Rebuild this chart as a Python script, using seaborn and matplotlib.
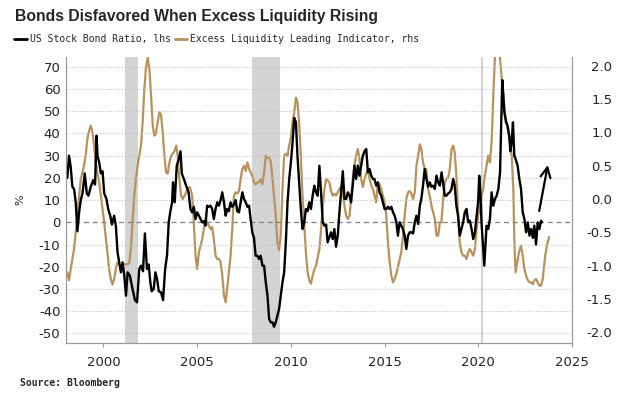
import numpy as np
import pandas as pd
import matplotlib
matplotlib.use('Agg')
import matplotlib.pyplot as plt
from matplotlib.lines import Line2D
from matplotlib.ticker import FormatStrFormatter
import seaborn as sns

# US stock/bond ratio (lhs, %)
ratio_years = [
    1998.07, 1998.16, 1998.25, 1998.34, 1998.43, 1998.52, 1998.61, 1998.70, 1998.79, 1998.88,
    1999.00, 1999.11, 1999.20, 1999.32, 1999.46, 1999.55, 1999.63, 1999.68, 1999.77, 1999.86,
    1999.95, 2000.04, 2000.16, 2000.25, 2000.36, 2000.45, 2000.57, 2000.66, 2000.75, 2000.84,
    2000.93, 2001.02, 2001.11, 2001.20, 2001.29, 2001.41, 2001.55, 2001.68, 2001.79, 2001.91,
    2002.00, 2002.11, 2002.21, 2002.32, 2002.41, 2002.50, 2002.57, 2002.68, 2002.77, 2002.86,
    2002.95, 2003.07, 2003.18, 2003.29, 2003.39, 2003.48, 2003.57, 2003.66, 2003.71, 2003.80,
    2003.91, 2004.00, 2004.11, 2004.18, 2004.29, 2004.41, 2004.54,
    2004.64, 2004.73, 2004.82, 2004.91, 2005.00, 2005.09, 2005.18, 2005.27, 2005.35, 2005.44,
    2005.53, 2005.62, 2005.71, 2005.80, 2005.89, 2005.98, 2006.07, 2006.16, 2006.25, 2006.34,
    2006.43, 2006.52, 2006.60, 2006.69, 2006.78, 2006.87, 2006.96, 2007.05, 2007.14, 2007.23,
    2007.32, 2007.41, 2007.50, 2007.59, 2007.68, 2007.77, 2007.85, 2007.94, 2008.03, 2008.12,
    2008.21, 2008.30, 2008.39, 2008.48, 2008.57, 2008.66, 2008.75, 2008.84, 2008.93, 2009.02,
    2009.10, 2009.19, 2009.28, 2009.37, 2009.46, 2009.55, 2009.64, 2009.73, 2009.82, 2009.91,
    2010.00, 2010.09, 2010.18, 2010.27, 2010.35, 2010.44, 2010.53, 2010.62, 2010.71, 2010.80,
    2010.89, 2010.98, 2011.07, 2011.16, 2011.25, 2011.34,
    2011.43, 2011.52, 2011.61, 2011.70, 2011.79, 2011.88, 2011.96, 2012.05, 2012.14, 2012.23,
    2012.32, 2012.41, 2012.50, 2012.59, 2012.68, 2012.77, 2012.86, 2012.95, 2013.04, 2013.13,
    2013.21, 2013.30, 2013.39, 2013.48, 2013.57, 2013.66, 2013.75, 2013.84, 2013.93, 2014.02,
    2014.11, 2014.20, 2014.29, 2014.38, 2014.46, 2014.55, 2014.64, 2014.73, 2014.82, 2014.91,
    2015.00, 2015.09, 2015.18, 2015.27, 2015.36, 2015.45, 2015.54, 2015.63, 2015.71, 2015.80,
    2015.89, 2015.98, 2016.07, 2016.16, 2016.25, 2016.34, 2016.43, 2016.52, 2016.61, 2016.70,
    2016.79, 2016.88, 2016.96, 2017.05, 2017.14, 2017.23, 2017.32, 2017.41, 2017.50, 2017.59,
    2017.68, 2017.77, 2017.86, 2017.95, 2018.04,
    2018.12, 2018.21, 2018.30, 2018.39, 2018.48, 2018.57, 2018.66, 2018.74, 2018.83, 2018.92,
    2019.01, 2019.10, 2019.19, 2019.28, 2019.37, 2019.46, 2019.55, 2019.64, 2019.73, 2019.82,
    2019.91, 2019.99, 2020.05, 2020.12, 2020.17, 2020.26, 2020.32, 2020.39, 2020.44, 2020.53,
    2020.62, 2020.71, 2020.80, 2020.89, 2020.98, 2021.07, 2021.16, 2021.21, 2021.28, 2021.33,
    2021.39, 2021.48, 2021.56, 2021.65, 2021.71, 2021.78, 2021.85, 2021.92, 2021.99, 2022.10,
    2022.19, 2022.28, 2022.37, 2022.46, 2022.55, 2022.64, 2022.73, 2022.82, 2022.91, 2022.99,
    2023.08, 2023.17, 2023.26, 2023.35, 2023.39,
]
ratio = [
    20, 30, 25, 16, 15, 9, -4, 4.5, 10, 13,
    22, 13, 12, 16, 19, 17, 39, 30, 27, 22,
    23, 13, 10.5, 6, 3, -1, 3, -1.5, -13.5, -18,
    -22.5, -18, -24, -33, -22.5, -24, -30, -35, -36, -21,
    -19.5, -22, -5, -21, -19, -27, -31, -30, -22.5, -25.5,
    -31, -31.5, -35, -21, -15, 0, 5, 9, 18, 9,
    25.5, 28, 32, 22, 19.5, 16.5, 13.5,
    6, 4.5, 7, 1.5, 4.5, 3, 1.5, 0, 0.5, -1.5,
    7.5, 7, 7.5, 6, 1.5, 6, 9, 7.5, 10, 13.5,
    9, 3, 6, 5, 9, 7, 8, 10, 5, 4.5,
    9, 13.5, 10.5, 9, 7, 7.5, 1.5, -4.5, -7, -15,
    -15, -16.5, -15, -19.5, -19.5, -27, -33, -43.5, -45, -45,
    -47, -45, -42, -39, -33, -27, -22.5, -9, 9, 19.5,
    27, 36, 47, 45, 30, 18, 6, -3, 0, 6,
    5, 9, 6, 12, 16.5, 13.5,
    12, 25.5, 13.5, 0, -1.5, -1, -9, -6.75, -4.5, -7.5,
    -3, -11, -6, 4.5, 13.5, 23, 10.5, 10.5, 13.5, 12,
    9, 16.5, 25.5, 19.5, 25.5, 21, 25.5, 30, 32, 33,
    22.5, 24, 21, 19.5, 19.5, 16.5, 18, 13.5, 12, 9,
    6, 6, 7, 6, 7, 4.5, 3, 0, -6, 0,
    -1.5, -3, -6, -12, -6, -4.5, -4.5, -5, 0, 3,
    -0.75, 7.5, 10.5, 16.5, 24, 19.5, 16, 18, 16, 16.5,
    15, 21, 18, 16.5, 22.5,
    18, 12, 12, 13, 13.5, 15, 19.5, 16.5, 7.5, 3,
    -6, -3, 0, 4.5, 6, 0, 0.75, -3, -7.5, -4.5,
    3, 9, 21, 12, 0, -12, -19.5, -9, -1.5, -3,
    1.5, 13.5, 7.5, 10.5, 12, 15, 22.5, 39, 64, 58,
    49.5, 45, 43.5, 39, 32, 36, 45, 30, 28.5, 25.5,
    19.5, 15, 4.5, 1.5, -4.5, 0, -6, -3, -7, -1.5,
    -10, 0, -3, 0.75, 0,
]

# Excess liquidity leading indicator (rhs)
liq_years = [
    1998.07, 1998.16, 1998.25, 1998.34, 1998.43, 1998.52, 1998.61, 1998.70, 1998.79, 1998.88,
    1998.96, 1999.05, 1999.14, 1999.23, 1999.32, 1999.41, 1999.50, 1999.59, 1999.68, 1999.77,
    1999.86, 1999.95, 2000.04, 2000.13, 2000.21, 2000.30, 2000.39, 2000.48, 2000.57, 2000.66,
    2000.75, 2000.84, 2000.93, 2001.11, 2001.29, 2001.38, 2001.46, 2001.55, 2001.64, 2001.73,
    2001.82, 2001.91, 2002.00, 2002.09, 2002.18, 2002.27, 2002.36, 2002.45, 2002.54, 2002.63,
    2002.71, 2002.80, 2002.89, 2002.98, 2003.07, 2003.16, 2003.25, 2003.34, 2003.43, 2003.52,
    2003.61, 2003.70, 2003.79, 2003.88, 2003.96, 2004.05, 2004.14, 2004.23, 2004.32, 2004.41,
    2004.50, 2004.59,
    2004.64, 2004.73, 2004.82, 2004.91, 2005.00, 2005.09, 2005.18, 2005.27, 2005.35, 2005.44,
    2005.53, 2005.62, 2005.71, 2005.80, 2005.89, 2005.98, 2006.07, 2006.16, 2006.25, 2006.34,
    2006.43, 2006.52, 2006.60, 2006.69, 2006.78, 2006.87, 2006.96, 2007.05, 2007.14, 2007.23,
    2007.32, 2007.41, 2007.50, 2007.59, 2007.68, 2007.77, 2007.85, 2007.94, 2008.03, 2008.12,
    2008.21, 2008.30, 2008.39, 2008.48, 2008.57, 2008.66, 2008.75, 2008.84, 2008.93, 2009.02,
    2009.10, 2009.19, 2009.28, 2009.37, 2009.46, 2009.55, 2009.64, 2009.73, 2009.82, 2009.91,
    2010.00, 2010.09, 2010.18, 2010.27, 2010.35, 2010.44, 2010.53, 2010.62, 2010.71, 2010.80,
    2010.89, 2010.98, 2011.07, 2011.16, 2011.25, 2011.34, 2011.43, 2011.52, 2011.61, 2011.70,
    2011.79, 2011.88,
    2011.96, 2012.05, 2012.14, 2012.23, 2012.32, 2012.41, 2012.50, 2012.59, 2012.68, 2012.77,
    2012.86, 2012.95, 2013.04, 2013.13, 2013.21, 2013.30, 2013.39, 2013.48, 2013.57, 2013.66,
    2013.75, 2013.84, 2013.93, 2014.02, 2014.11, 2014.20, 2014.29, 2014.38, 2014.46, 2014.55,
    2014.64, 2014.73, 2014.82, 2014.91, 2015.00, 2015.09, 2015.18, 2015.27, 2015.36, 2015.45,
    2015.54, 2015.63, 2015.71, 2015.80, 2015.89, 2015.98, 2016.07, 2016.16, 2016.25, 2016.34,
    2016.43, 2016.52, 2016.61, 2016.70, 2016.79, 2016.88, 2016.96, 2017.05, 2017.14, 2017.23,
    2017.32, 2017.41, 2017.50, 2017.59, 2017.68, 2017.77, 2017.86, 2017.95,
    2018.03, 2018.12, 2018.21, 2018.30, 2018.39, 2018.48, 2018.57, 2018.66, 2018.74, 2018.83,
    2018.92, 2019.01, 2019.10, 2019.19, 2019.28, 2019.37, 2019.46, 2019.55, 2019.64, 2019.73,
    2019.82, 2019.91, 2019.99, 2020.08, 2020.17, 2020.26, 2020.35, 2020.44, 2020.53, 2020.62,
    2020.71, 2020.80, 2020.89, 2020.98, 2021.07, 2021.16, 2021.24, 2021.33, 2021.42, 2021.51,
    2021.60, 2021.69, 2021.78, 2021.87, 2021.92, 2021.99, 2022.08, 2022.17, 2022.28, 2022.37,
    2022.46, 2022.55, 2022.64, 2022.73, 2022.82, 2022.91, 2022.99, 2023.08, 2023.17, 2023.26,
    2023.35, 2023.44, 2023.57, 2023.66, 2023.78,
]
liquidity = [
    -1.10, -1.22, -1.05, -0.90, -0.75, -0.50, -0.25, 0.05, 0.30, 0.40,
    0.50, 0.65, 0.90, 1.02, 1.10, 1.00, 0.80, 0.55, 0.38, 0.25,
    0.05, -0.15, -0.35, -0.60, -0.80, -1.05, -1.20, -1.28, -1.20, -1.05,
    -0.95, -0.98, -1.00, -0.98, -0.98, -0.95, -0.75, -0.35, 0.05, 0.30,
    0.50, 0.65, 0.80, 1.15, 1.65, 1.98, 2.12, 1.95, 1.55, 1.10,
    0.95, 0.98, 1.15, 1.30, 1.27, 1.00, 0.65, 0.40, 0.38, 0.55,
    0.65, 0.68, 0.72, 0.80, 0.65, 0.30, 0.05, 0.00, 0.05, 0.10,
    0.15, 0.18,
    0.15, 0.05, -0.35, -0.85, -1.05, -0.80, -0.70, -0.60, -0.45, -0.30,
    -0.35, -0.40, -0.45, -0.42, -0.60, -0.85, -0.90, -0.90, -0.95, -1.15,
    -1.45, -1.55, -1.35, -1.10, -0.85, -0.45, 0.05, 0.10, 0.08, 0.12,
    0.30, 0.45, 0.50, 0.42, 0.55, 0.45, 0.40, 0.35, 0.25, 0.22,
    0.25, 0.25, 0.30, 0.22, 0.40, 0.65, 0.62, 0.62, 0.55, 0.30,
    0.05, -0.25, -0.65, -0.77, -0.55, 0.15, 0.65, 0.68, 0.65, 0.80,
    0.92, 1.15, 1.30, 1.52, 1.45, 1.15, 0.65, 0.05, -0.35, -0.80,
    -1.10, -1.22, -1.27, -1.15, -1.05, -1.00, -0.88, -0.75, -0.45, -0.12,
    0.15, 0.30,
    0.28, 0.25, 0.12, 0.05, 0.08, 0.05, 0.10, 0.15, 0.18, 0.10,
    -0.10, -0.25, -0.30, -0.25, 0.00, 0.30, 0.50, 0.65, 0.75, 0.60,
    0.30, 0.18, 0.30, 0.38, 0.45, 0.30, 0.20, 0.15, 0.05, -0.05,
    0.25, 0.22, 0.15, 0.05, -0.05, -0.25, -0.65, -0.95, -1.15, -1.25,
    -1.20, -1.12, -1.02, -0.90, -0.80, -0.55, -0.25, 0.00, 0.10, 0.12,
    0.08, 0.00, 0.10, 0.50, 0.65, 0.82, 0.75, 0.55, 0.45, 0.45,
    0.15, 0.05, -0.10, -0.20, -0.30, -0.55, -0.55, -0.35,
    -0.35, -0.02, 0.25, 0.30, 0.32, 0.45, 0.75, 0.80, 0.70, 0.35,
    -0.20, -0.65, -0.80, -0.85, -0.85, -0.90, -0.80, -0.75, -0.80, -0.85,
    -0.75, -0.45, -0.25, -0.15, 0.05, 0.15, 0.35, 0.50, 0.65, 0.55,
    0.85, 1.55, 2.15, 2.38, 2.32, 2.10, 1.85, 1.55, 1.30, 1.15,
    1.00, 0.85, 0.65, 0.15, -0.60, -1.10, -0.95, -0.80, -0.70, -0.85,
    -1.05, -1.15, -1.22, -1.25, -1.25, -1.28, -1.22, -1.20, -1.25, -1.30,
    -1.30, -1.20, -0.85, -0.70, -0.57,
]

# US recessions (shaded)
recessions = [(2001.17, 2001.84), (2007.93, 2009.42), (2020.13, 2020.27)]

left_ticks = [70, 60, 50, 40, 30, 20, 10, 0, -10, -20, -30, -40, -50]
right_ticks = [2.0, 1.5, 1.0, 0.5, 0.0, -0.5, -1.0, -1.5, -2.0]
year_ticks = [2000, 2005, 2010, 2015, 2020, 2025]

title = 'Bonds Disfavored When Excess Liquidity Rising'
ratio_label = 'US Stock Bond Ratio, lhs'
liq_label = 'Excess Liquidity Leading Indicator, rhs'
source = 'Source: Bloomberg'

GOLD = '#b8925a'
GREY = '#999999'

ratio_df = pd.DataFrame({'year': ratio_years, 'value': ratio})
liq_df = pd.DataFrame({'year': liq_years, 'value': liquidity})

sns.set_style('white')
plt.rcParams['font.family'] = ['DejaVu Sans']
plt.rcParams['axes.unicode_minus'] = False

fig = plt.figure(figsize=(6.34, 3.99), dpi=100)
ax = fig.add_axes([66 / 634, 1 - 343 / 399, 506 / 634, 286 / 399])
ax2 = ax.twinx()

# bands + gold line underneath, black line on top
for start, end in recessions:
    ax2.axvspan(start, end, color='#d4d4d4', lw=0, zorder=0)
sns.lineplot(data=liq_df, x='year', y='value', ax=ax2, color=GOLD, lw=1.6)
sns.lineplot(data=ratio_df, x='year', y='value', ax=ax, color='black', lw=1.7)
ax.set_zorder(ax2.get_zorder() + 1)
ax.patch.set_visible(False)

for v in left_ticks:
    if v != 0:
        ax.axhline(v, color='#c4c4c4', lw=0.8, ls=(0, (1, 1.5)), zorder=0)
ax.axhline(0, color='#808080', lw=0.9, ls=(0, (4, 3)), zorder=1)

ax.annotate('', xy=(2023.71, 25.8), xytext=(2023.25, 5.1),
            arrowprops=dict(arrowstyle='->', color='black', lw=1.6,
                            mutation_scale=18, shrinkA=0, shrinkB=0))

ax.set_xlim(1998, 2025)
ax.set_ylim(-54.3, 74.4)
ax2.set_ylim(-2.16, 2.13)

ax.set_xticks(year_ticks)
ax.set_yticks(left_ticks)
ax2.set_yticks(right_ticks)
ax2.yaxis.set_major_formatter(FormatStrFormatter('%.1f'))

ax.set_xlabel('')
ax2.set_xlabel('')
ax2.set_ylabel('')
ax.set_ylabel('%', fontsize=8, rotation=90)
ax.yaxis.set_label_coords(-41 / 506, 0.5)

ax.tick_params(axis='y', length=0, pad=4, labelsize=9.5, labelcolor='#222222')
ax.tick_params(axis='x', length=3, width=0.8, color=GREY, pad=6, labelsize=9.5,
               labelcolor='#222222', direction='out', bottom=True)
ax2.tick_params(axis='y', length=0, pad=29, labelsize=9.5, labelcolor='#222222')
for lbl in ax2.get_yticklabels():
    lbl.set_horizontalalignment('right')

for a in (ax, ax2):
    a.spines['top'].set_visible(False)
    for side in ('left', 'right', 'bottom'):
        a.spines[side].set_color(GREY)
        a.spines[side].set_linewidth(0.8)

# header, legend and source
fig.text(15 / 634, 1 - 17 / 399, title, fontsize=11.3, fontweight='bold',
         family='Liberation Sans', va='center', ha='left')
fig.add_artist(Line2D([14 / 634, 27 / 634], [1 - 39 / 399] * 2, color='black', lw=2))
fig.text(30 / 634, 1 - 39 / 399, ratio_label, fontsize=7, family='DejaVu Sans Mono',
         va='center', ha='left')
fig.add_artist(Line2D([175 / 634, 187 / 634], [1 - 39 / 399] * 2, color=GOLD, lw=2))
fig.text(190 / 634, 1 - 39 / 399, liq_label, fontsize=7, family='DejaVu Sans Mono',
         va='center', ha='left')
fig.text(20 / 634, 1 - 383 / 399, source, fontsize=7, fontweight='bold',
         family='DejaVu Sans Mono', va='center', ha='left')

fig.savefig('out.png', dpi=100)
